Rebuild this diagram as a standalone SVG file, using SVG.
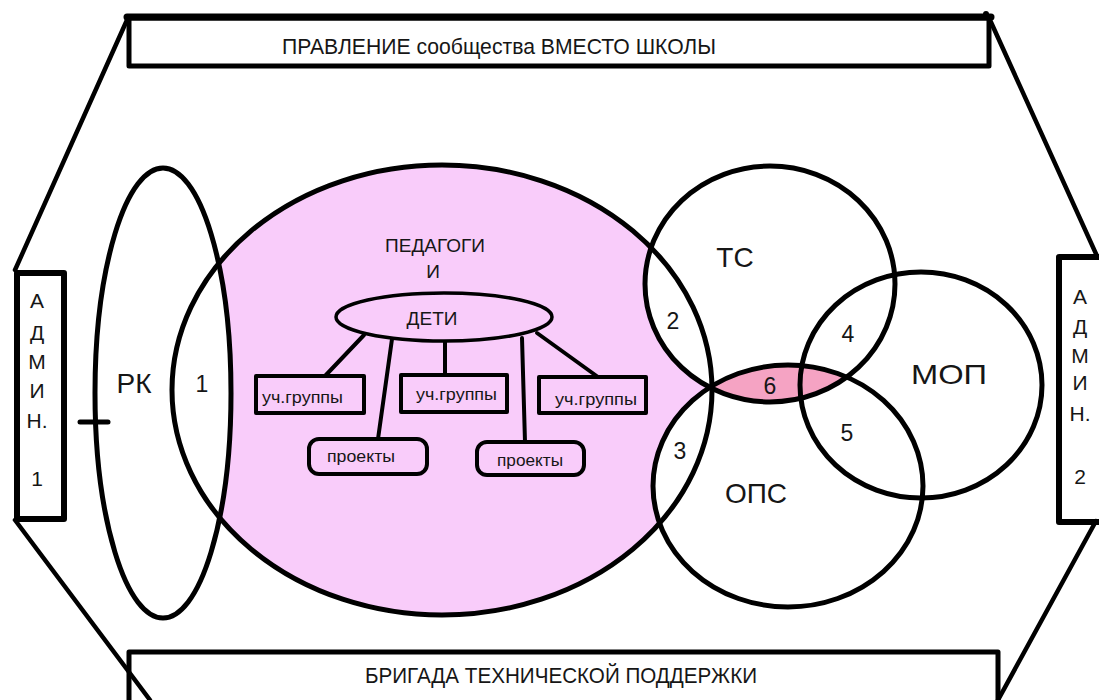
<svg xmlns="http://www.w3.org/2000/svg" width="1099" height="700" viewBox="0 0 1099 700">
  <defs>
    <style>
      .ln { stroke: #000; fill: none; stroke-linecap: round; stroke-linejoin: round; }
      .thick { stroke-width: 5; }
      .mid { stroke-width: 4; }
      .txt { font-family: "Liberation Sans", Arial, sans-serif; fill: #161616; }
      .big { font-size: 28px; }
      .num { font-size: 23px; }
      .small { font-size: 17px; }
      .adm { font-size: 21px; text-anchor: middle; }
      .ctr { text-anchor: middle; }
    </style>
    <clipPath id="opsClip">
      <ellipse cx="788" cy="486" rx="135" ry="121"/>
    </clipPath>
  </defs>

  <rect width="1099" height="700" fill="#fff"/>

  <!-- outer frame sides -->
  <g id="frame" class="ln" stroke-width="4.5">
    <line x1="127" y1="20" x2="15" y2="270"/>
    <line x1="15" y1="520" x2="150" y2="700"/>
    <line x1="990" y1="20" x2="1097" y2="256"/>
    <line x1="1096" y1="521" x2="998" y2="700"/>
  </g>

  <!-- top board -->
  <g id="board">
    <rect x="129" y="18" width="860" height="48" fill="#fff" class="ln thick"/>
    <line x1="127" y1="17" x2="991" y2="17" class="ln" stroke-width="7"/>
    <circle cx="986" cy="14" r="3" fill="#000"/>
    <text x="499" y="54" class="txt ctr" font-size="22" textLength="434" lengthAdjust="spacingAndGlyphs">ПРАВЛЕНИЕ сообщества  ВМЕСТО ШКОЛЫ</text>
  </g>

  <!-- bottom support team -->
  <g id="support">
    <rect x="129" y="652" width="869" height="60" fill="#fff" class="ln thick"/>
    <text x="561" y="683" class="txt ctr" font-size="22" textLength="392" lengthAdjust="spacingAndGlyphs">БРИГАДА ТЕХНИЧЕСКОЙ ПОДДЕРЖКИ</text>
  </g>

  <!-- admin side panels -->
  <g id="admin1">
    <rect x="17" y="273" width="47" height="246" fill="#fff" class="ln" stroke-width="6"/>
    <text class="txt adm" x="37" y="308">А</text>
    <text class="txt adm" x="37" y="340">Д</text>
    <text class="txt adm" x="37" y="369">М</text>
    <text class="txt adm" x="37" y="398">И</text>
    <text class="txt adm" x="37" y="428">Н.</text>
    <text class="txt adm" x="37" y="486">1</text>
  </g>
  <g id="admin2">
    <rect x="1059" y="257" width="60" height="265" fill="#fff" class="ln" stroke-width="6"/>
    <text class="txt adm" x="1080" y="304">А</text>
    <text class="txt adm" x="1080" y="334">Д</text>
    <text class="txt adm" x="1080" y="363">М</text>
    <text class="txt adm" x="1080" y="390">И</text>
    <text class="txt adm" x="1080" y="421">Н.</text>
    <text class="txt adm" x="1080" y="484">2</text>
  </g>

  <!-- fills of the sets -->
  <g id="fills">
    <ellipse cx="442" cy="390" rx="270" ry="225" fill="#f9ccfa"/>
    <ellipse cx="163" cy="393" rx="68" ry="225" fill="#fff"/>
    <ellipse cx="770" cy="284" rx="125" ry="118" fill="#fff"/>
    <ellipse cx="788" cy="486" rx="135" ry="121" fill="#fff"/>
    <ellipse cx="921" cy="385" rx="121" ry="113" fill="#fff"/>
    <ellipse cx="770" cy="284" rx="125" ry="118" fill="#f5a3c3" clip-path="url(#opsClip)"/>
  </g>

  <!-- outlines of the sets -->
  <g id="pedagogi" class="ln thick">
    <ellipse cx="442" cy="390" rx="270" ry="225"/>
  </g>
  <g id="rk" class="ln thick">
    <ellipse cx="163" cy="393" rx="68" ry="225"/>
    <line x1="80" y1="422" x2="108" y2="422"/>
  </g>
  <g id="ts" class="ln thick">
    <ellipse cx="770" cy="284" rx="125" ry="118"/>
  </g>
  <g id="ops" class="ln thick">
    <ellipse cx="788" cy="486" rx="135" ry="121"/>
  </g>
  <g id="mop" class="ln thick">
    <ellipse cx="921" cy="385" rx="121" ry="113"/>
  </g>

  <!-- tree connectors -->
  <g id="connectors" class="ln mid">
    <line x1="364" y1="335" x2="325" y2="376"/>
    <line x1="392" y1="339" x2="378" y2="439"/>
    <line x1="445" y1="342" x2="445" y2="375"/>
    <line x1="522" y1="338" x2="525" y2="442"/>
    <line x1="537" y1="333" x2="598" y2="377"/>
  </g>

  <!-- tree nodes -->
  <g id="deti">
    <ellipse cx="444" cy="317" rx="108" ry="24" fill="#f9ccfa" class="ln" stroke-width="3.5"/>
    <text x="432" y="325" class="txt ctr" font-size="19">ДЕТИ</text>
  </g>
  <g id="group1">
    <rect x="256" y="376" width="108" height="37" fill="#f9ccfa" class="ln mid"/>
    <text x="262" y="403" class="txt small" textLength="81" lengthAdjust="spacingAndGlyphs">уч.группы</text>
  </g>
  <g id="group2">
    <rect x="401" y="375" width="106" height="37" fill="#f9ccfa" class="ln mid"/>
    <text x="416" y="400" class="txt small" textLength="81" lengthAdjust="spacingAndGlyphs">уч.группы</text>
  </g>
  <g id="group3">
    <rect x="539" y="377" width="107" height="36" fill="#f9ccfa" class="ln mid"/>
    <text x="555" y="405" class="txt small" textLength="82" lengthAdjust="spacingAndGlyphs">уч.группы</text>
  </g>
  <g id="project1">
    <rect x="309" y="439" width="118" height="35" rx="10" fill="#f9ccfa" class="ln mid"/>
    <text x="327" y="462" class="txt small" textLength="68" lengthAdjust="spacingAndGlyphs">проекты</text>
  </g>
  <g id="project2">
    <rect x="477" y="442" width="107" height="33" rx="10" fill="#f9ccfa" class="ln mid"/>
    <text x="497" y="466" class="txt small" textLength="66" lengthAdjust="spacingAndGlyphs">проекты</text>
  </g>

  <!-- set labels -->
  <g id="labels" class="txt">
    <text x="435" y="252" class="ctr" font-size="19">ПЕДАГОГИ</text>
    <text x="433" y="278" class="ctr" font-size="19">И</text>
    <text x="134" y="393" class="big ctr">РК</text>
    <text x="735" y="267" class="big ctr">ТС</text>
    <text x="756" y="503" class="big ctr">ОПС</text>
    <text x="949" y="384" class="big ctr" textLength="76" lengthAdjust="spacingAndGlyphs">МОП</text>
    <text x="202" y="392" class="num ctr">1</text>
    <text x="673" y="329" class="num ctr">2</text>
    <text x="680" y="459" class="num ctr">3</text>
    <text x="848" y="342" class="num ctr">4</text>
    <text x="847" y="441" class="num ctr">5</text>
    <text x="770" y="394" class="num ctr">6</text>
  </g>
</svg>
